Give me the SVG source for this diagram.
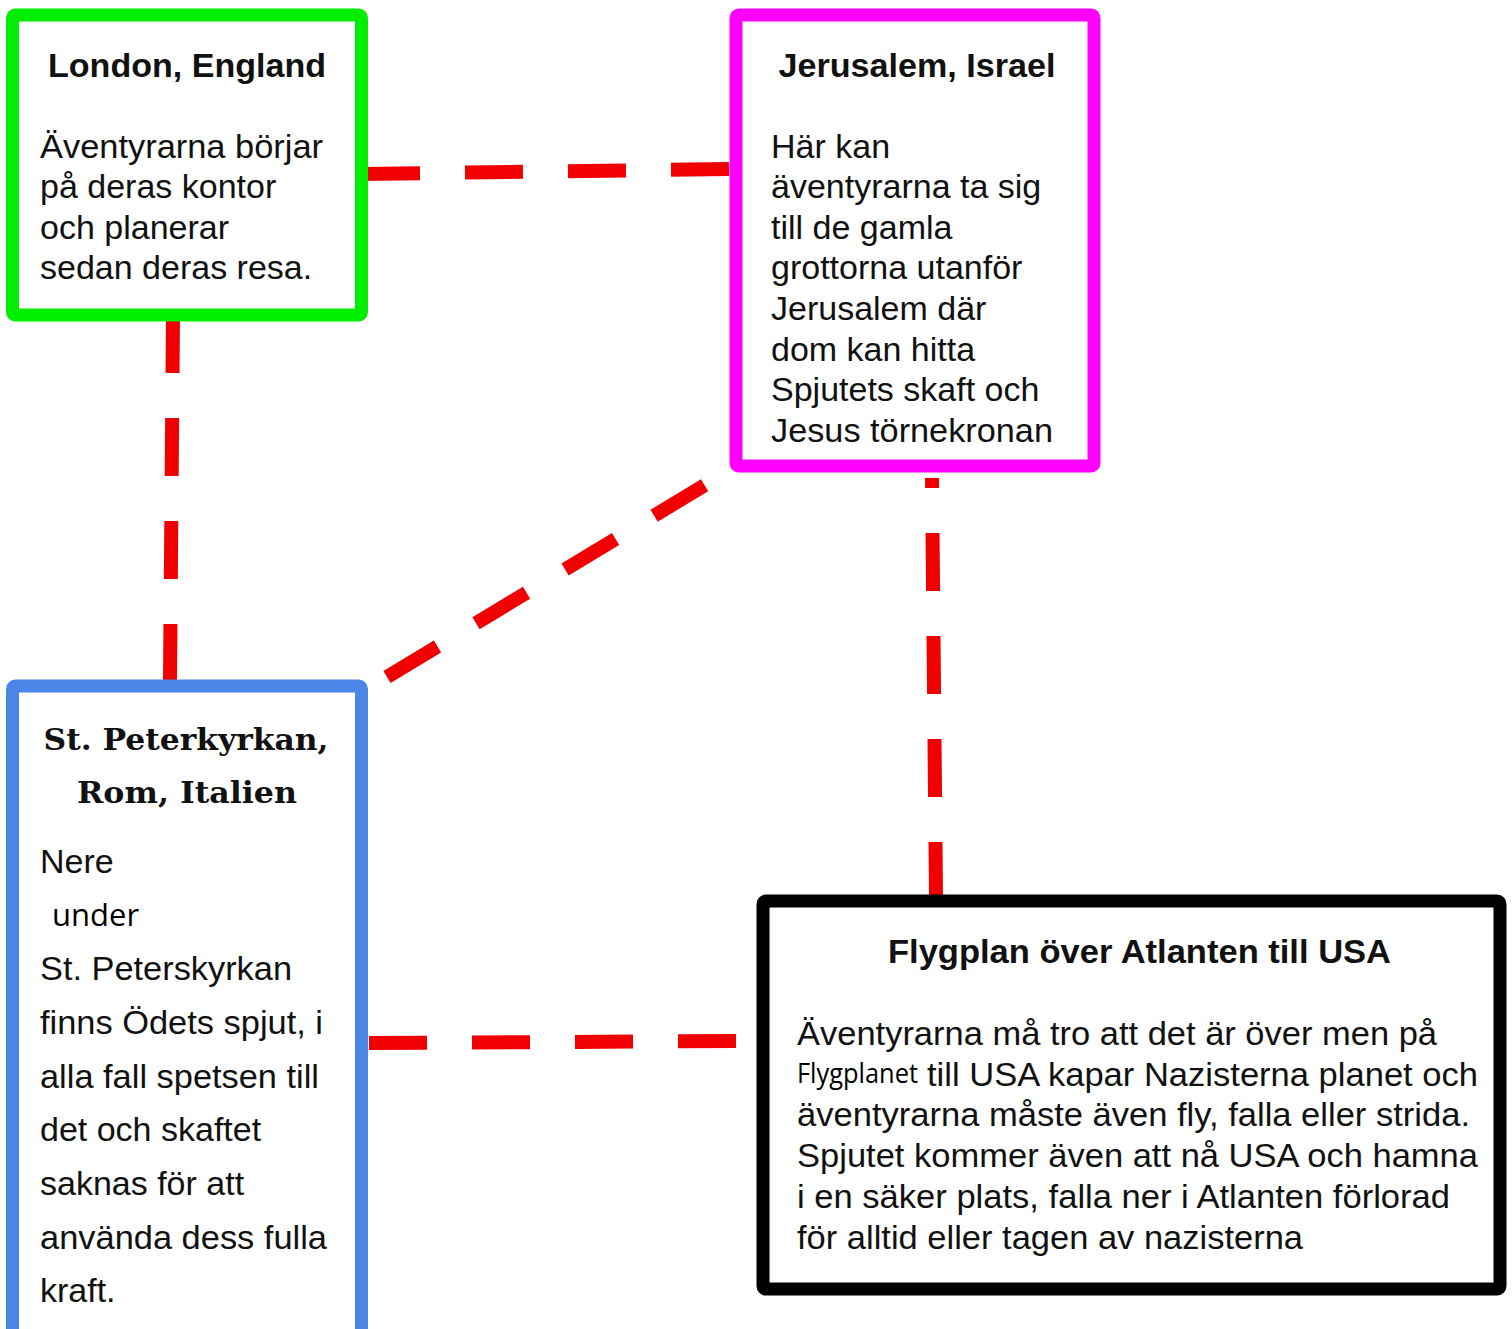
<svg xmlns="http://www.w3.org/2000/svg" width="1512" height="1329" viewBox="0 0 1512 1329">
<style>
.box{fill:#fff;stroke-width:13}
.t{font-family:"Liberation Sans",Arial,sans-serif;font-size:34px;fill:#111}
.tb{font-family:"Liberation Sans",Arial,sans-serif;font-size:33px;font-weight:bold;fill:#111;text-anchor:middle}
.ts{font-family:"DejaVu Serif","Liberation Serif",serif;font-size:30px;font-weight:bold;fill:#111;text-anchor:middle}
.tc{font-family:"Open Sans",sans-serif;fill:#000}
.dash{stroke:#f00000;stroke-width:14;fill:none;stroke-dasharray:58 45}
</style>
<rect width="1512" height="1329" fill="#fff"/>
<g id="connectors">
<line class="dash" x1="362" y1="174" x2="729" y2="169"/>
<line class="dash" x1="173" y1="315" x2="170" y2="681"/>
<line class="dash" x1="387" y1="677" x2="705" y2="485" style="stroke-dasharray:59 45"/>
<line class="dash" x1="932" y1="478" x2="936" y2="896" style="stroke-dashoffset:48;stroke-dasharray:58 45"/>
<line class="dash" x1="369" y1="1043" x2="740" y2="1041"/>
</g>
<g id="london">
<rect class="box" x="12.5" y="15" width="349" height="300" rx="3" stroke="#00ee00"/>
<text class="tb" x="187" y="77" textLength="278" lengthAdjust="spacingAndGlyphs">London, England</text>
<text class="t" x="40" y="158" textLength="283" lengthAdjust="spacingAndGlyphs">Äventyrarna börjar</text>
<text class="t" x="40" y="198">på deras kontor</text>
<text class="t" x="40" y="239">och planerar</text>
<text class="t" x="40" y="279">sedan deras resa.</text>
</g>
<g id="jerusalem">
<rect class="box" x="736" y="15" width="358" height="451" rx="3" stroke="#ff00ff"/>
<text class="tb" x="917" y="77" textLength="277" lengthAdjust="spacingAndGlyphs">Jerusalem, Israel</text>
<text class="t" x="771" y="158">Här kan</text>
<text class="t" x="771" y="198">äventyrarna ta sig</text>
<text class="t" x="771" y="239">till de gamla</text>
<text class="t" x="771" y="279">grottorna utanför</text>
<text class="t" x="771" y="320">Jerusalem där</text>
<text class="t" x="771" y="361">dom kan hitta</text>
<text class="t" x="771" y="401">Spjutets skaft och</text>
<text class="t" x="771" y="442" textLength="282" lengthAdjust="spacingAndGlyphs">Jesus törnekronan</text>
</g>
<g id="stpeter">
<rect class="box" x="12.5" y="686" width="349" height="660" rx="3" stroke="#4a86e8"/>
<text class="ts" x="186" y="750" textLength="285" lengthAdjust="spacingAndGlyphs">St. Peterkyrkan,</text>
<text class="ts" x="187" y="803" textLength="220" lengthAdjust="spacingAndGlyphs">Rom, Italien</text>
<text class="t" x="40" y="873">Nere</text>
<text class="tc" x="52" y="926" font-size="31">under</text>
<text class="t" x="40" y="980" textLength="252" lengthAdjust="spacingAndGlyphs">St. Peterskyrkan</text>
<text class="t" x="40" y="1034" textLength="283" lengthAdjust="spacingAndGlyphs">finns Ödets spjut, i</text>
<text class="t" x="40" y="1088" textLength="279" lengthAdjust="spacingAndGlyphs">alla fall spetsen till</text>
<text class="t" x="40" y="1141">det och skaftet</text>
<text class="t" x="40" y="1195">saknas för att</text>
<text class="t" x="40" y="1249" textLength="287" lengthAdjust="spacingAndGlyphs">använda dess fulla</text>
<text class="t" x="40" y="1302">kraft.</text>
</g>
<g id="flygplan">
<rect class="box" x="763" y="901" width="737" height="388" rx="3" stroke="#000"/>
<text class="tb" x="1139.5" y="963" textLength="503" lengthAdjust="spacingAndGlyphs">Flygplan över Atlanten till USA</text>
<text class="t" x="797" y="1045" textLength="640" lengthAdjust="spacingAndGlyphs">Äventyrarna må tro att det är över men på</text>
<text class="tc" x="797" y="1083" font-size="27" textLength="121" lengthAdjust="spacingAndGlyphs">Flygplanet</text>
<text class="t" x="927" y="1086" textLength="551" lengthAdjust="spacingAndGlyphs">till USA kapar Nazisterna planet och</text>
<text class="t" x="797" y="1126" textLength="673" lengthAdjust="spacingAndGlyphs">äventyrarna måste även fly, falla eller strida.</text>
<text class="t" x="797" y="1167" textLength="681" lengthAdjust="spacingAndGlyphs">Spjutet kommer även att nå USA och hamna</text>
<text class="t" x="797" y="1208" textLength="653" lengthAdjust="spacingAndGlyphs">i en säker plats, falla ner i Atlanten förlorad</text>
<text class="t" x="797" y="1249" textLength="506" lengthAdjust="spacingAndGlyphs">för alltid eller tagen av nazisterna</text>
</g>
</svg>
